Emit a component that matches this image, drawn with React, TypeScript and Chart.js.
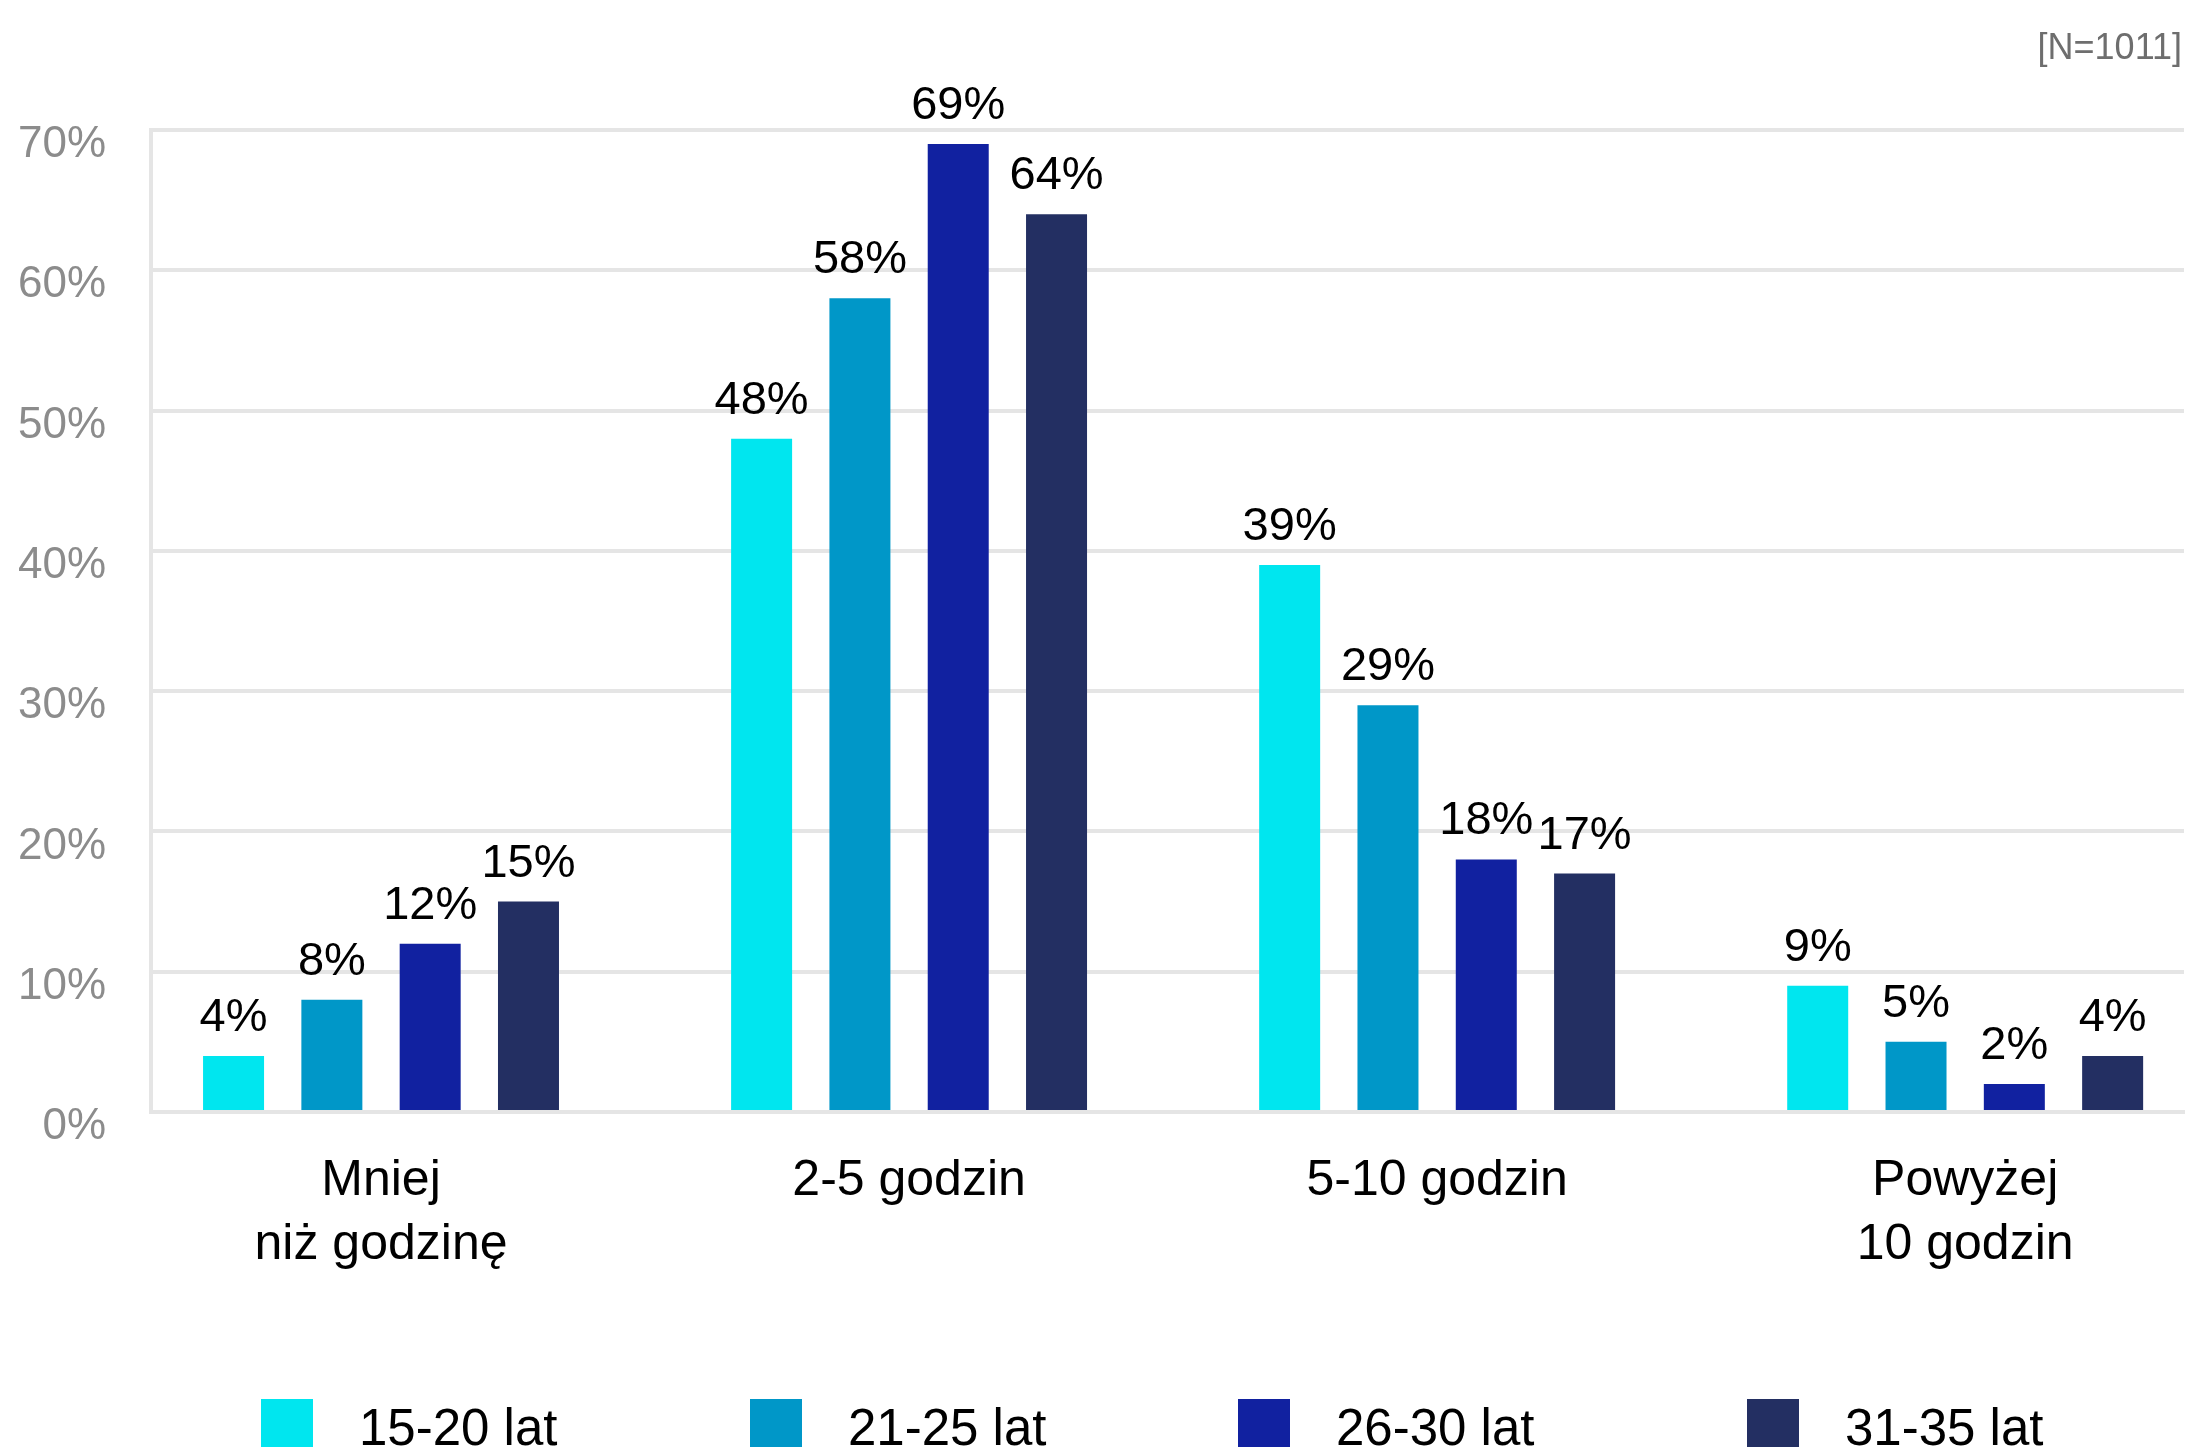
import React, { useEffect, useRef } from 'react';
import { Chart, registerables } from 'chart.js';

Chart.register(...registerables);

// ---- data ----
const categories: (string | string[])[] = [['Mniej', 'niż godzinę'], '2-5 godzin', '5-10 godzin', ['Powyżej', '10 godzin']];
const seriesLabels = ['15-20 lat', '21-25 lat', '26-30 lat', '31-35 lat'];
const values1520 = [4, 48, 39, 9];
const values2125 = [8, 58, 29, 5];
const values2630 = [12, 69, 18, 2];
const values3135 = [15, 64, 17, 4];
const seriesColors = ['#00E6EF', '#0097C8', '#1121A0', '#232F62'];
const yMin = 0;
const yMax = 70;
const yStep = 10;
const sampleNote = '[N=1011]';

const FONT = '"Liberation Sans", Arial, Helvetica, sans-serif';
const GRID = '#e5e5e5';

// legend layout (left x of each legend square)
const LEGEND_X = [261, 750, 1238, 1747];

const dataLabelsPlugin = {
  id: 'dataLabels',
  afterDatasetsDraw(chart: any) {
    const ctx = chart.ctx;
    ctx.save();
    ctx.font = `47px ${FONT}`;
    ctx.fillStyle = '#000';
    ctx.textAlign = 'center';
    ctx.textBaseline = 'alphabetic';
    chart.data.datasets.forEach((ds: any, i: number) => {
      const meta = chart.getDatasetMeta(i);
      meta.data.forEach((el: any, j: number) => {
        ctx.fillText(ds.data[j] + '%', el.x, el.y - 25);
      });
    });
    ctx.restore();
  },
};

const extrasPlugin = {
  id: 'extras',
  afterDraw(chart: any) {
    const ctx = chart.ctx;
    ctx.save();
    // sample size note
    ctx.font = `36px ${FONT}`;
    ctx.fillStyle = '#6e6e6e';
    ctx.textAlign = 'right';
    ctx.textBaseline = 'alphabetic';
    ctx.fillText(sampleNote, chart.width - 6, 59);
    // legend
    ctx.font = `51px ${FONT}`;
    ctx.textAlign = 'left';
    chart.data.datasets.forEach((ds: any, i: number) => {
      const x = LEGEND_X[i];
      ctx.fillStyle = ds.backgroundColor;
      ctx.fillRect(x, 1399, 52, 52);
      ctx.fillStyle = '#000';
      ctx.fillText(ds.label, x + 52 + 46, 1445);
    });
    ctx.restore();
  },
};

export default function App() {
  const canvasRef = useRef<HTMLCanvasElement | null>(null);

  useEffect(() => {
    if (!canvasRef.current) return;
    Chart.defaults.font.family = FONT;
    const seriesValues = [values1520, values2125, values2630, values3135];
    const chart = new Chart(canvasRef.current, {
      type: 'bar',
      data: {
        labels: categories,
        datasets: seriesLabels.map((label, i) => ({
          label,
          data: seriesValues[i],
          backgroundColor: seriesColors[i],
          borderWidth: 0,
          categoryPercentage: 0.7447,
          barPercentage: 0.6205,
        })),
      },
      options: {
        responsive: false,
        animation: false,
        devicePixelRatio: 1,
        layout: { padding: { top: 130, right: 4, bottom: 167, left: 0 } },
        plugins: {
          legend: { display: false },
          tooltip: { enabled: false },
          title: { display: false },
        },
        scales: {
          x: {
            type: 'category',
            offset: true,
            grid: { display: false, drawTicks: false },
            border: { display: true, color: GRID, width: 4 },
            ticks: {
              color: '#000',
              font: { size: 50, lineHeight: 64 / 50 },
              padding: 37,
              maxRotation: 0,
              autoSkip: false,
            },
            afterBuildTicks: (scale: any) => {
              scale._startValue = -0.4356;
              scale._valueRange = 3.85;
            },
            afterFit: (scale: any) => {
              scale.height = 168;
            },
          },
          y: {
            min: yMin,
            max: yMax,
            grid: { color: GRID, lineWidth: 4, drawTicks: false },
            border: { display: true, color: GRID, width: 4 },
            ticks: {
              stepSize: yStep,
              color: '#8c8c8c',
              font: { size: 44 },
              padding: 45,
              labelOffset: 15,
              callback: (v: any) => v + '%',
            },
            afterFit: (scale: any) => {
              scale.width = 151;
            },
          },
        },
      },
      plugins: [dataLabelsPlugin, extrasPlugin],
    });
    return () => chart.destroy();
  }, []);

  return (
    <div style={{ position: 'absolute', left: 0, top: 0, width: 2188, height: 1447, overflow: 'hidden', background: '#fff' }}>
      <canvas ref={canvasRef} width={2188} height={1447} style={{ display: 'block', width: 2188, height: 1447 }} />
    </div>
  );
}
